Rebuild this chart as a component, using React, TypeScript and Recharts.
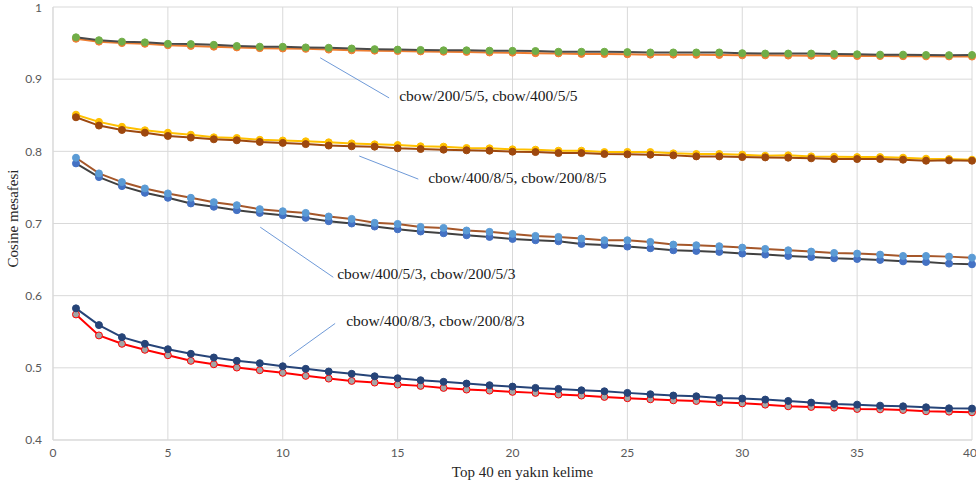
import {
  CartesianGrid,
  Line,
  LineChart,
  ReferenceDot,
  ReferenceLine,
  XAxis,
  YAxis,
} from 'recharts';

const ranks = Array.from({ length: 40 }, (_, i) => i + 1);

const cbow200_5_5 = [0.958, 0.954, 0.952, 0.951, 0.949, 0.9486, 0.9476, 0.946, 0.945, 0.9449, 0.944, 0.9435, 0.9425, 0.9416, 0.941, 0.9405, 0.94, 0.94, 0.9395, 0.9393, 0.939, 0.938, 0.938, 0.938, 0.9375, 0.937, 0.937, 0.937, 0.937, 0.936, 0.9355, 0.9355, 0.9355, 0.935, 0.9345, 0.934, 0.934, 0.9335, 0.9333, 0.9335];
const cbow400_5_5 = [0.956, 0.952, 0.95, 0.949, 0.947, 0.946, 0.945, 0.944, 0.943, 0.9425, 0.942, 0.941, 0.94, 0.9395, 0.939, 0.9385, 0.938, 0.9378, 0.937, 0.9367, 0.936, 0.9357, 0.935, 0.9348, 0.9345, 0.934, 0.934, 0.9337, 0.9335, 0.933, 0.933, 0.9327, 0.9325, 0.9323, 0.932, 0.932, 0.9318, 0.9316, 0.9315, 0.9313];
const cbow400_8_5 = [0.8508, 0.8408, 0.834, 0.8292, 0.8258, 0.823, 0.8194, 0.8185, 0.816, 0.815, 0.8139, 0.8125, 0.811, 0.8097, 0.8087, 0.807, 0.8065, 0.8046, 0.8042, 0.8028, 0.8023, 0.8009, 0.8009, 0.799, 0.7992, 0.799, 0.7972, 0.7963, 0.7963, 0.7954, 0.7939, 0.7944, 0.793, 0.7925, 0.792, 0.792, 0.7912, 0.7898, 0.7893, 0.7884];
const cbow200_8_5 = [0.8472, 0.8357, 0.8296, 0.8258, 0.8213, 0.819, 0.8167, 0.8153, 0.813, 0.8117, 0.81, 0.808, 0.807, 0.8065, 0.8042, 0.8032, 0.8023, 0.8014, 0.8009, 0.7995, 0.799, 0.7976, 0.7976, 0.7963, 0.7958, 0.7953, 0.7944, 0.793, 0.793, 0.792, 0.7916, 0.7912, 0.7903, 0.7893, 0.7893, 0.7893, 0.7884, 0.787, 0.7875, 0.787];
const cbow400_5_3 = [0.7911, 0.7694, 0.7574, 0.7486, 0.7417, 0.7356, 0.7296, 0.7254, 0.7199, 0.717, 0.7147, 0.7097, 0.7064, 0.7009, 0.6994, 0.6953, 0.6939, 0.6903, 0.6884, 0.6856, 0.6828, 0.6814, 0.6791, 0.6768, 0.6768, 0.6745, 0.6708, 0.6699, 0.6685, 0.6666, 0.6648, 0.6629, 0.6611, 0.6592, 0.6583, 0.6569, 0.655, 0.655, 0.6541, 0.6527];
const cbow200_5_3 = [0.7833, 0.7643, 0.7518, 0.7425, 0.7356, 0.7278, 0.7232, 0.7185, 0.7147, 0.7115, 0.7078, 0.7032, 0.7, 0.6958, 0.692, 0.6889, 0.6865, 0.6837, 0.6814, 0.6786, 0.6768, 0.6754, 0.6717, 0.6703, 0.668, 0.6657, 0.6629, 0.662, 0.6606, 0.6583, 0.6569, 0.655, 0.6536, 0.6518, 0.6508, 0.6495, 0.6476, 0.6467, 0.6444, 0.6435];
const cbow400_8_3 = [0.5824, 0.5592, 0.5425, 0.5333, 0.5258, 0.5194, 0.5143, 0.5097, 0.5064, 0.5022, 0.4986, 0.4949, 0.4917, 0.4883, 0.4856, 0.4828, 0.4806, 0.4782, 0.4759, 0.474, 0.4722, 0.4708, 0.4689, 0.4675, 0.4653, 0.4634, 0.4616, 0.4606, 0.4583, 0.4574, 0.456, 0.4541, 0.4518, 0.45, 0.449, 0.4476, 0.4467, 0.4453, 0.4439, 0.4435];
const cbow200_8_3 = [0.574, 0.5449, 0.5333, 0.525, 0.5175, 0.5097, 0.505, 0.5004, 0.4967, 0.4931, 0.4889, 0.4851, 0.4819, 0.4796, 0.4768, 0.475, 0.4722, 0.4699, 0.4685, 0.4667, 0.4653, 0.463, 0.4616, 0.4597, 0.4579, 0.4564, 0.455, 0.4541, 0.4522, 0.4508, 0.449, 0.4467, 0.4458, 0.4449, 0.443, 0.4425, 0.4416, 0.4398, 0.4393, 0.4384];

const xTicks = [0, 5, 10, 15, 20, 25, 30, 35, 40];
const yTicks = [0.4, 0.5, 0.6, 0.7, 0.8, 0.9, 1];

// callout text with its leader line, in data units
const callouts = [
  { text: 'cbow/200/5/5, cbow/400/5/5', from: [11.63, 0.9296], to: [14.63, 0.874], at: [15.07, 0.874] },
  { text: 'cbow/400/8/5, cbow/200/8/5', from: [13.33, 0.7935], to: [15.9, 0.7615], at: [16.33, 0.7605] },
  { text: 'cbow/400/5/3, cbow/200/5/3', from: [9.02, 0.6949], to: [12.2, 0.6255], at: [12.37, 0.6275] },
  { text: 'cbow/400/8/3, cbow/200/8/3', from: [10.28, 0.5157], to: [12.28, 0.5615], at: [12.76, 0.563] },
];

const data = ranks.map((r, i) => ({
  rank: r,
  a: cbow400_5_5[i],
  b: cbow200_5_5[i],
  c: cbow400_8_5[i],
  d: cbow200_8_5[i],
  e: cbow200_5_3[i],
  f: cbow400_5_3[i],
  g: cbow200_8_3[i],
  h: cbow400_8_3[i],
}));

const series = [
  { key: 'a', name: 'cbow/400/5/5', line: '#ED7D31', fill: '#ED7D31', stroke: '#ED7D31' },
  { key: 'b', name: 'cbow/200/5/5', line: '#4a4a4a', fill: '#70AD47', stroke: '#70AD47' },
  { key: 'c', name: 'cbow/400/8/5', line: '#FFC000', fill: '#FFC000', stroke: '#FFC000' },
  { key: 'd', name: 'cbow/200/8/5', line: '#9E480E', fill: '#9E480E', stroke: '#9E480E' },
  { key: 'e', name: 'cbow/200/5/3', line: '#404040', fill: '#4472C4', stroke: '#4472C4' },
  { key: 'f', name: 'cbow/400/5/3', line: '#A5572A', fill: '#5B9BD5', stroke: '#5B9BD5' },
  { key: 'g', name: 'cbow/200/8/3', line: '#FF0000', fill: '#A5A5A5', stroke: '#FF0000' },
  { key: 'h', name: 'cbow/400/8/3', line: '#264478', fill: '#264478', stroke: '#264478' },
];

const tickStyle = { fontFamily: 'Lato, sans-serif', fontSize: 12, fill: '#595959' };
const serif = '"Liberation Serif", "Times New Roman", serif';

export default function App() {
  return (
    <div style={{ position: 'absolute', left: 0, top: 0, width: 976, height: 490, background: '#fff' }}>
      <LineChart width={976} height={490} data={data} margin={{ top: 7, right: 4, bottom: 0, left: 0 }}>
        <CartesianGrid stroke="#d9d9d9" strokeWidth={1} />
        <XAxis
          dataKey="rank"
          type="number"
          domain={[0, 40]}
          ticks={xTicks}
          tick={tickStyle}
          tickLine={false}
          axisLine={{ stroke: '#d9d9d9' }}
          height={50}
          label={{
            content: ({ viewBox }: any) => (
              <text
                x={viewBox.x + viewBox.width / 2 + 10}
                y={viewBox.y + 34}
                textAnchor="middle"
                dominantBaseline="middle"
                fontFamily={serif}
                fontSize={15}
                fill="#262626"
              >
                Top 40 en yakın kelime
              </text>
            ),
          }}
        />
        <YAxis
          type="number"
          domain={[0.4, 1]}
          ticks={yTicks}
          tick={tickStyle}
          tickLine={false}
          tickMargin={5}
          axisLine={{ stroke: '#d9d9d9' }}
          width={53}
          label={{
            content: ({ viewBox }: any) => {
              const cx = 15;
              const cy = viewBox.y + viewBox.height / 2 - 5;
              return (
                <text
                  x={cx}
                  y={cy}
                  transform={`rotate(-90 ${cx} ${cy})`}
                  textAnchor="middle"
                  dominantBaseline="middle"
                  fontFamily={serif}
                  fontSize={15}
                  fill="#262626"
                >
                  Cosine mesafesi
                </text>
              );
            },
          }}
        />
        {series.map((s) => (
          <Line
            key={s.key}
            dataKey={s.key}
            name={s.name}
            type="linear"
            stroke={s.line}
            strokeWidth={2}
            dot={{ r: 3.5, fill: s.fill, stroke: s.stroke, strokeWidth: 1 }}
            activeDot={false}
            isAnimationActive={false}
          />
        ))}
        {callouts.map((c) => (
          <ReferenceLine
            key={'l' + c.text}
            segment={[
              { x: c.from[0], y: c.from[1] },
              { x: c.to[0], y: c.to[1] },
            ]}
            stroke="#6f9ad8"
            strokeWidth={1}
          />
        ))}
        {callouts.map((c) => (
          <ReferenceDot
            key={'t' + c.text}
            x={c.at[0]}
            y={c.at[1]}
            r={0}
            shape={(p: any) => (
              <text
                x={p.cx}
                y={p.cy}
                dominantBaseline="middle"
                fontFamily={serif}
                fontSize={15.5}
                fill="#1a1a1a"
              >
                {c.text}
              </text>
            )}
          />
        ))}
      </LineChart>
    </div>
  );
}
